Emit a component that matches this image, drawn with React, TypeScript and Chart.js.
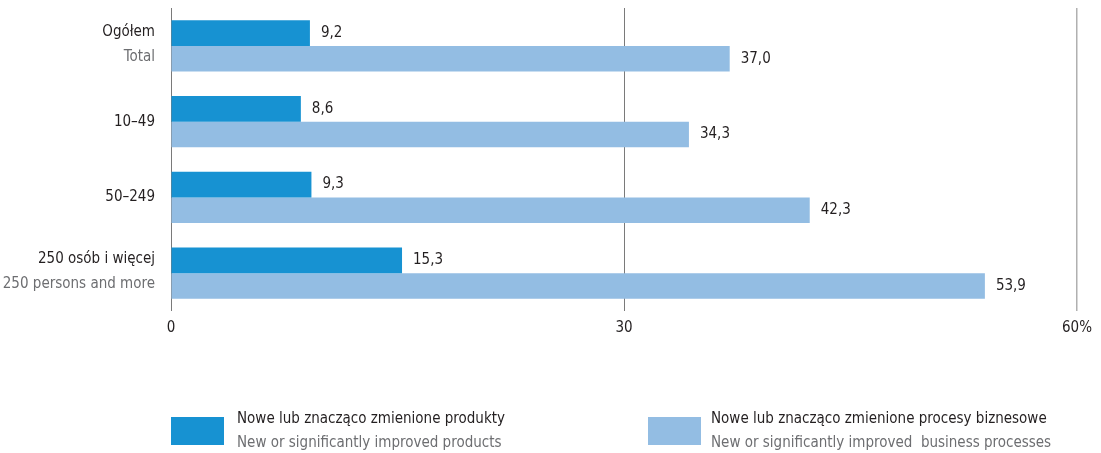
import React, { useEffect, useRef } from "react";
import { Chart, registerables } from "chart.js";

Chart.register(...registerables);

const categoriesPL = ["Ogółem", "10–49", "50–249", "250 osób i więcej"];
const categoriesEN = ["Total", "", "", "250 persons and more"];
const productsValues = [9.2, 8.6, 9.3, 15.3];
const processesValues = [37.0, 34.3, 42.3, 53.9];
const xTicks = [0, 30, 60];
const legendPL = ["Nowe lub znacząco zmienione produkty", "Nowe lub znacząco zmienione procesy biznesowe"];
const legendEN = ["New or significantly improved products", "New or significantly improved  business processes"];

const DARK = "#1792d2";
const LIGHT = "#93bde3";
const FONT = "'Liberation Sans Narrow', 'DejaVu Sans Condensed', 'Open Sans', sans-serif";
const TEXT_DARK = "#231f20";
const TEXT_GRAY = "#6d6e71";

const fmt = (v: number) => v.toFixed(1).replace(".", ",");

const overlayPlugin = {
  id: "overlay",
  afterDraw(chart: any) {
    const ctx = chart.ctx;
    const m0 = chart.getDatasetMeta(0);
    const m1 = chart.getDatasetMeta(1);
    const yScale = chart.scales.y;
    ctx.save();
    ctx.font = `15px ${FONT}`;
    ctx.textBaseline = "middle";
    // category labels
    ctx.textAlign = "right";
    categoriesPL.forEach((c, i) => {
      const en = categoriesEN[i];
      if (en) {
        ctx.fillStyle = TEXT_DARK;
        ctx.fillText(c, 155, m0.data[i].y - 1);
        ctx.fillStyle = TEXT_GRAY;
        ctx.fillText(en, 155, m1.data[i].y - 2);
      } else {
        ctx.fillStyle = TEXT_DARK;
        ctx.fillText(c, 155, yScale.getPixelForValue(i));
      }
    });
    // value labels
    ctx.textAlign = "left";
    ctx.fillStyle = TEXT_DARK;
    ctx.font = `15px ${FONT}`;
    [m0, m1].forEach((meta, d) => {
      const vals = d === 0 ? productsValues : processesValues;
      meta.data.forEach((el: any, i: number) => {
        ctx.fillText(fmt(vals[i]), el.x + 11, el.y);
      });
    });
    // legend
    const items = [
      { color: DARK, x: 171, tx: 237 },
      { color: LIGHT, x: 648, tx: 711 },
    ];
    items.forEach((it, i) => {
      ctx.fillStyle = it.color;
      ctx.fillRect(it.x, 417, 53, 28);
      ctx.font = `15px ${FONT}`;
      ctx.fillStyle = TEXT_DARK;
      ctx.fillText(legendPL[i], it.tx, 419);
      ctx.fillStyle = TEXT_GRAY;
      ctx.fillText(legendEN[i], it.tx, 443);
    });
    ctx.restore();
  },
};

export default function App() {
  const ref = useRef<HTMLCanvasElement>(null);
  useEffect(() => {
    document.body.style.margin = "0";
    const chart = new Chart(ref.current!, {
      type: "bar",
      data: {
        labels: categoriesPL,
        datasets: [
          { label: legendPL[0], data: productsValues, backgroundColor: DARK },
          { label: legendPL[1], data: processesValues, backgroundColor: LIGHT },
        ],
      },
      options: {
        indexAxis: "y",
        animation: false,
        responsive: false,
        categoryPercentage: 0.675,
        barPercentage: 1,
        layout: { padding: { left: 171, right: 24, top: 8, bottom: 0 } },
        plugins: { legend: { display: false }, tooltip: { enabled: false } },
        scales: {
          y: { display: false },
          x: {
            min: 0,
            max: 60,
            afterBuildTicks: (s: any) => {
              s.ticks = xTicks.map((v) => ({ value: v }));
            },
            afterFit: (s: any) => {
              s.height = 142;
            },
            grid: {
              drawTicks: false,
              color: (c: any) => (c.tick && c.tick.value === 60 ? "#b0b0b0" : "#7a7a7a"),
              lineWidth: (c: any) => (c.tick && c.tick.value === 60 ? 1.5 : 1),
            },
            border: { display: false },
            ticks: {
              padding: 8,
              color: TEXT_DARK,
              font: { family: FONT, size: 15 },
              callback: (v: any) => (v === 60 ? "60%" : String(v)),
            },
          },
        },
      },
      plugins: [overlayPlugin],
    });
    return () => chart.destroy();
  }, []);
  return (
    <div style={{ width: 1101, height: 453 }}>
      <canvas ref={ref} width={1101} height={453} />
    </div>
  );
}
